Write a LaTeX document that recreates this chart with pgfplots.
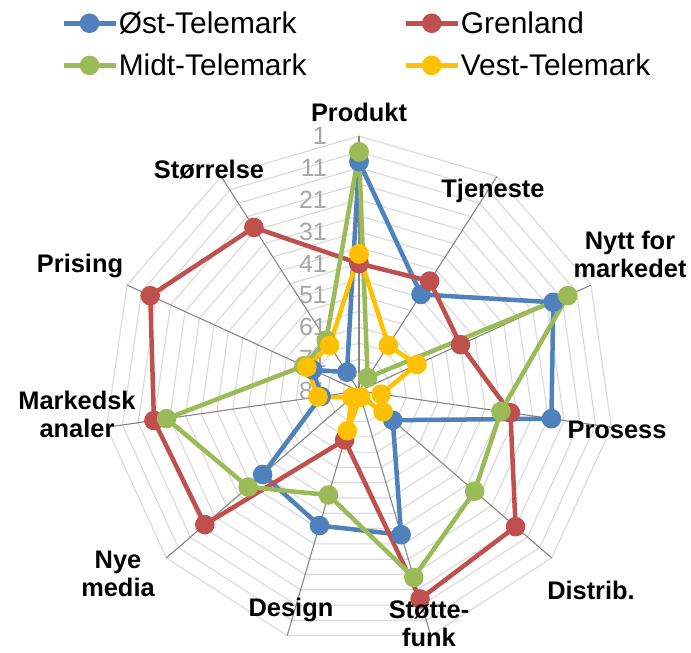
\documentclass[border=0pt]{standalone}
\usepackage{pgfplots}
\pgfplotsset{compat=1.18}
\usepackage{pgfplotstable}
\usepgfplotslibrary{polar}
\usepackage{fontspec}
\setmainfont{Liberation Sans}

\definecolor{cost}{HTML}{4F81BD}
\definecolor{cgren}{HTML}{C0504D}
\definecolor{cmidt}{HTML}{9BBB59}
\definecolor{cvest}{HTML}{FFC000}
\definecolor{ringc}{HTML}{D9D9D9}
\definecolor{spokec}{HTML}{868686}
\definecolor{tickc}{HTML}{A6A6A6}

% rank per category (1 = outer ring), angle in degrees, last row closes the polygon
\pgfplotstableread{
angle   ost  gren  midt  vest
90      9    41    6     38
57.27   45   40    76    64
24.55   14   46    9     61
351.82  20   33    36    74
319.09  67   16    33    71
286.36  34   13    20    79
253.64  37   65    47    68
220.91  41   17    35    78
188.18  69   16    20    68
155.45  65   9     62    63
122.73  74   20    62    64
90      9    41    6     38
}\ranks

\begin{document}
\begin{tikzpicture}
\path[use as bounding box] (0bp,0bp) rectangle (691bp,653bp);
\begin{polaraxis}[
  at={(359bp,262bp)}, anchor=origin,
  scale only axis, width=510bp, height=510bp,
  ymin=0, ymax=80,
  xtick=\empty, ytick=\empty,
  axis line style={draw=none},
  clip=false,
  legend columns=2,
  legend style={at={(axis description cs:-0.09,1.25)}, anchor=north west,
    draw=none, fill=none, font=\fontsize{30}{32}\selectfont,
    /tikz/every even column/.append style={column sep=96bp},
    row sep=17bp, nodes={inner sep=1bp}},
  legend cell align=left,
  legend image code/.code={
    \draw[#1, mark repeat=2, mark phase=2]
      plot coordinates {(0bp,0bp) (26bp,0bp) (52bp,0bp)};},
  every axis plot/.append style={line width=4.5bp, mark=*, mark size=7.5bp},
]
% polygon grid every 5 ranks
\pgfplotsinvokeforeach{5,10,...,80}{
  \draw[ringc, line width=1.1bp] (axis cs:90,#1) -- (axis cs:57.27,#1) -- (axis cs:24.55,#1)
    -- (axis cs:351.82,#1) -- (axis cs:319.09,#1) -- (axis cs:286.36,#1) -- (axis cs:253.64,#1)
    -- (axis cs:220.91,#1) -- (axis cs:188.18,#1) -- (axis cs:155.45,#1) -- (axis cs:122.73,#1) -- cycle;
}
\pgfplotsinvokeforeach{90,57.27,24.55,351.82,319.09,286.36,253.64,220.91,188.18,155.45,122.73}{
  \draw[spokec, line width=1.1bp] (axis cs:0,0) -- (axis cs:#1,80);
}
\begin{scope}[every node/.style={anchor=east, text=tickc, font=\fontsize{25}{25}\selectfont, inner sep=0pt, xshift=-32bp}]
\node at (axis cs:90,80) {1};
\node at (axis cs:90,70) {11};
\node at (axis cs:90,60) {21};
\node at (axis cs:90,50) {31};
\node at (axis cs:90,40) {41};
\node at (axis cs:90,30) {51};
\node at (axis cs:90,20) {61};
\node at (axis cs:90,10) {71};
\node at (axis cs:90,0.01) {81};
\end{scope}

\addplot[cost, mark options={fill=cost}] table[x=angle, y expr={81-\thisrow{ost}}] {\ranks};
\addlegendentry{Øst-Telemark}
\addplot[cgren, mark options={fill=cgren}] table[x=angle, y expr={81-\thisrow{gren}}] {\ranks};
\addlegendentry{Grenland}
\addplot[cmidt, mark options={fill=cmidt}] table[x=angle, y expr={81-\thisrow{midt}}] {\ranks};
\addlegendentry{Midt-Telemark}
\addplot[cvest, mark options={fill=cvest}] table[x=angle, y expr={81-\thisrow{vest}}] {\ranks};
\addlegendentry{Vest-Telemark}
\end{polaraxis}

\begin{scope}[every node/.style={font=\bfseries\fontsize{25.5}{28}\selectfont, align=center, inner sep=0pt}]
\node at (359bp,541bp) {Produkt};
\node at (493bp,462bp) {Tjeneste};
\node at (630bp,399bp) {Nytt for\\markedet};
\node at (617bp,223bp) {Prosess};
\node at (591bp,63bp) {Distrib.};
\node at (429bp,29bp) {Støtte-\\funk};
\node at (291bp,43bp) {Design};
\node at (118bp,79bp) {Nye\\media};
\node at (77bp,239bp) {Markedsk\\analer};
\node at (80bp,387bp) {Prising};
\node at (209bp,483bp) {Størrelse};
\end{scope}
\end{tikzpicture}
\end{document}
